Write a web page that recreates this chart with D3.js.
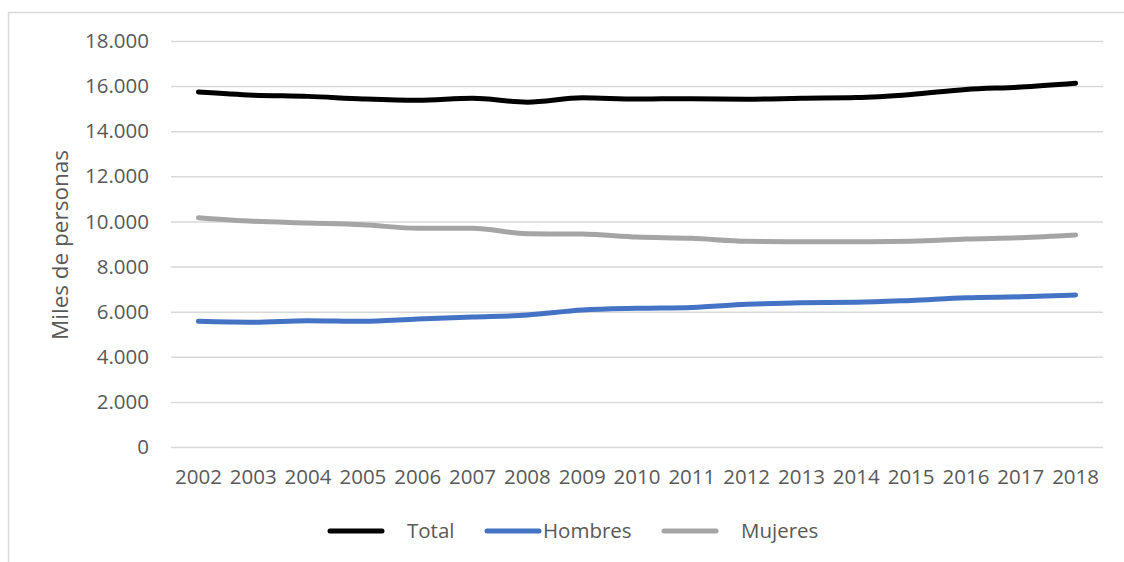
<!DOCTYPE html>
<html>
<head>
<meta charset="utf-8">
<script src="https://cdn.jsdelivr.net/npm/d3@7"></script>
<style>
  html, body { margin: 0; padding: 0; background: #fff; }
  svg { display: block; }
  text { font-family: "Open Sans", "Liberation Sans", sans-serif; fill: #595959; }
</style>
</head>
<body>
<svg id="chart" width="1124" height="562"></svg>
<script>
// Población (miles de personas), 2002–2018
const years = ["2002","2003","2004","2005","2006","2007","2008","2009","2010",
               "2011","2012","2013","2014","2015","2016","2017","2018"];
const total   = [15740,15600,15545,15430,15370,15460,15290,15480,15430,15440,15420,15460,15490,15630,15850,15960,16130];
const hombres = [5570,5530,5600,5570,5675,5760,5850,6070,6150,6190,6325,6400,6415,6500,6620,6660,6740];
const mujeres = [10165,10005,9930,9855,9695,9695,9455,9440,9310,9250,9120,9100,9100,9120,9220,9280,9400];
const yTicks  = [0,2000,4000,6000,8000,10000,12000,14000,16000,18000];
const seriesNames = ["Total","Hombres","Mujeres"];
const seriesColors = ["#000000","#4472C4","#A5A5A5"];

const svg = d3.select("#chart");

// Chart area frame (left and top edges visible)
svg.append("path")
  .attr("d", "M8.5,562 L8.5,12.5 L1124,12.5")
  .attr("fill", "none").attr("stroke", "#d9d9d9").attr("stroke-width", 1.5);

const plot = { left: 171, right: 1103, top: 41, bottom: 447 };

const x = d3.scaleBand().domain(years).range([plot.left, plot.right]);
const y = d3.scaleLinear().domain([0, 18000]).range([plot.bottom, plot.top]);

const fmt = v => d3.format(",")(v).replace(/,/g, ".");
const labelSize = 20.5;

// Horizontal gridlines + y labels
const yAxis = d3.axisLeft(y).tickValues(yTicks).tickFormat(fmt)
  .tickSize(-(plot.right - plot.left)).tickPadding(22);
const gy = svg.append("g").attr("transform", `translate(${plot.left},0)`).call(yAxis);
gy.select(".domain").remove();
gy.selectAll(".tick line").attr("stroke", "#d9d9d9").attr("stroke-width", 1.5);
gy.selectAll(".tick text").attr("font-size", labelSize).attr("fill", "#595959")
  .style("font-family", "'Open Sans', 'Liberation Sans', sans-serif");

// X labels
const xAxis = d3.axisBottom(x).tickSize(0).tickPadding(22);
const gx = svg.append("g").attr("transform", `translate(0,${plot.bottom})`).call(xAxis);
gx.select(".domain").remove();
gx.selectAll(".tick text").attr("font-size", labelSize).attr("fill", "#595959")
  .style("font-family", "'Open Sans', 'Liberation Sans', sans-serif");

// Y axis title
svg.append("text")
  .attr("transform", `translate(68,${(plot.top + plot.bottom) / 2 + 1}) rotate(-90)`)
  .attr("text-anchor", "middle")
  .attr("font-size", 22.5)
  .text("Miles de personas");

// Series lines
const line = d3.line()
  .x((d, i) => x(years[i]) + x.bandwidth() / 2)
  .y(d => y(d))
  .curve(d3.curveMonotoneX);

[total, hombres, mujeres].forEach((vals, k) => {
  svg.append("path")
    .datum(vals)
    .attr("d", line)
    .attr("fill", "none")
    .attr("stroke", seriesColors[k])
    .attr("stroke-width", 5)
    .attr("stroke-linecap", "round")
    .attr("stroke-linejoin", "round");
});

// Legend
const legendItems = [
  { lx: 330, tx: 407 },
  { lx: 487, tx: 543 },
  { lx: 664, tx: 741 }
];
const ly = 531;
legendItems.forEach((it, k) => {
  svg.append("line")
    .attr("x1", it.lx).attr("x2", it.lx + 52)
    .attr("y1", ly).attr("y2", ly)
    .attr("stroke", seriesColors[k]).attr("stroke-width", 5)
    .attr("stroke-linecap", "round");
  svg.append("text")
    .attr("x", it.tx).attr("y", ly)
    .attr("dy", "0.35em")
    .attr("font-size", labelSize)
    .text(seriesNames[k]);
});
</script>
</body>
</html>
